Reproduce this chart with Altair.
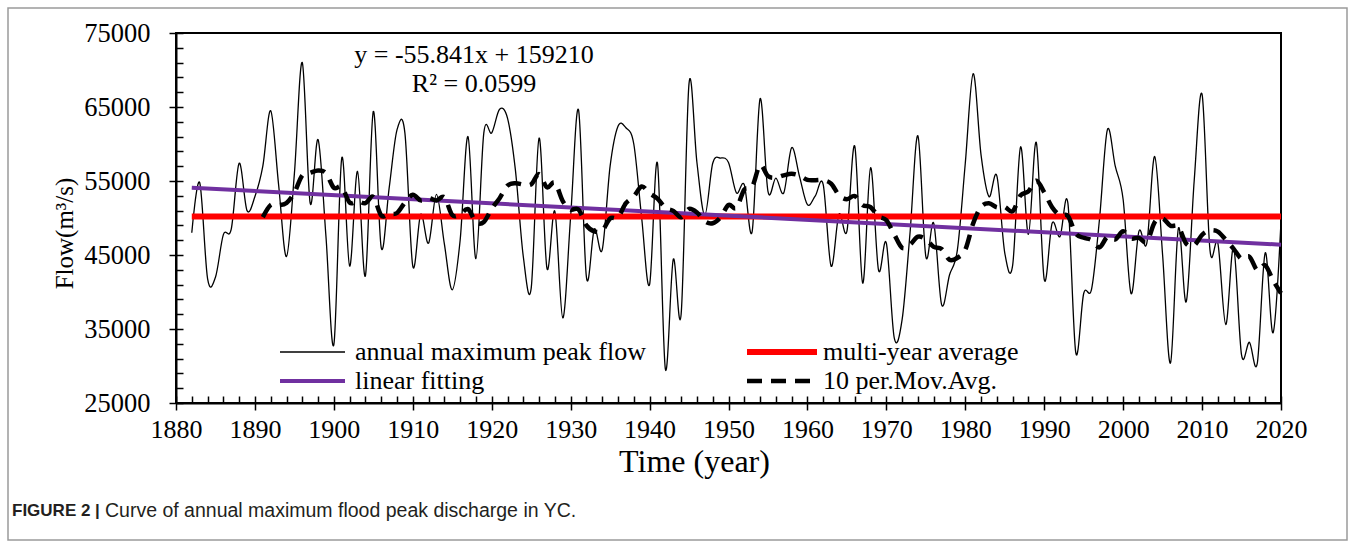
import altair as alt
import pandas as pd

# ---------------- data ----------------
years = list(range(1882, 2021))
peak_flow = [
    48000, 54800, 41800, 42000, 47750, 48500, 57400, 51000, 52900, 57000,  # 1882-1891
    64500, 54500, 44800, 56000, 71000, 52000, 60600, 47500, 32900, 58100,  # 1892-1901
    43500, 56300, 42200, 64400, 46000, 54000, 61900, 61500, 43500, 50500,  # 1902-1911
    46600, 53200, 46500, 40300, 47000, 61000, 44500, 61500, 61500, 64700,  # 1912-1921
    63500, 56500, 44800, 40500, 60800, 43200, 50900, 36500, 50200, 64600,  # 1922-1931
    42000, 48500, 45700, 57000, 62400, 62200, 60000, 50000, 41000, 57400,  # 1932-1941
    29600, 44400, 37000, 68200, 57500, 50400, 57400, 58100, 57500, 53400,  # 1942-1951
    54500, 48200, 66100, 53600, 55400, 53400, 59500, 55600, 51800, 53000,  # 1952-1961
    54500, 43500, 50500, 48200, 59700, 41200, 56800, 43000, 46600, 33800,  # 1962-1971
    36300, 48000, 61100, 44800, 49300, 38300, 42300, 45700, 57400, 69500,  # 1972-1981
    58500, 52900, 55700, 45300, 43600, 59600, 47800, 60200, 41700, 49300,  # 1982-1991
    47500, 52000, 31800, 39800, 40400, 49800, 61900, 57000, 52500, 39800,  # 1992-2001
    48200, 46600, 58300, 45000, 30400, 48600, 38700, 55000, 66700, 45700,  # 2002-2011
    46600, 35600, 46000, 31500, 33200, 30400, 45300, 34500, 49500,         # 2012-2020
]
avg_years = [1882, 2020]
avg_flow = [50200, 50200]
fit_years = [1882, 2020]
fit_flow = [54100, 46400]

x_major = list(range(1880, 2021, 10))
x_minor = list(range(1880, 2021, 2))
y_major = list(range(25000, 75001, 10000))
y_minor = list(range(25000, 75001, 2000))

equation_text = "y = -55.841x + 159210"
r2_text = "R² = 0.0599"
legend_labels = ["annual maximum peak flow", "multi-year average",
                 "linear fitting", "10 per.Mov.Avg."]
caption_bold = "FIGURE 2 |"
caption_text = "Curve of annual maximum flood peak discharge in YC."

# ---------------- styling ----------------
W, H = 1105, 370
SERIF = "Liberation Serif"
SANS = "Liberation Sans"
RED = "#FF0000"
PURPLE = "#7030A0"

flow_df = pd.DataFrame({"year": years, "flow": peak_flow})
avg_df = pd.DataFrame({"year": avg_years, "flow": avg_flow})
fit_df = pd.DataFrame({"year": fit_years, "flow": fit_flow})
one_row = pd.DataFrame({"k": [0]})

xscale = alt.Scale(domain=[1880, 2020], nice=False, zero=False)
yscale = alt.Scale(domain=[25000, 75000], nice=False, zero=False)

x_axis_main = alt.Axis(
    values=x_major, format="d", orient="bottom", title="Time (year)",
    titleFont=SERIF, titleFontSize=32, titleFontWeight="normal", titleColor="black",
    titlePadding=4, titleX=518, labelFont=SERIF, labelFontSize=26, labelColor="black",
    labelPadding=6, labelOverlap=False, labelFlush=False, tickSize=7, tickColor="black",
    tickWidth=1.5, domainColor="black", domainWidth=2, grid=False)
y_axis_main = alt.Axis(
    values=y_major, format="d", orient="left", title="Flow(m³/s)",
    titleFont=SERIF, titleFontSize=25, titleFontWeight="normal", titleColor="black",
    titlePadding=6, titleY=200, labelFont=SERIF, labelFontSize=26.5, labelColor="black",
    labelPadding=19, labelOverlap=False, tickSize=7, tickColor="black",
    tickWidth=1.5, domainColor="black", domainWidth=2, grid=False)
x_axis_minor = alt.Axis(
    values=x_minor, orient="bottom", offset=-7, labels=False, domain=False,
    tickSize=7, tickColor="black", tickWidth=1.5, grid=False, title=None)
y_axis_minor = alt.Axis(
    values=y_minor, orient="left", offset=-7, labels=False, domain=False,
    tickSize=7, tickColor="black", tickWidth=1.5, grid=False, title=None)

flow_line = alt.Chart(flow_df).mark_line(
    color="black", strokeWidth=1.3, interpolate="cardinal"
).encode(
    x=alt.X("year:Q", scale=xscale, axis=x_axis_main),
    y=alt.Y("flow:Q", scale=yscale, axis=y_axis_main),
)

avg_line = alt.Chart(avg_df).mark_line(color=RED, strokeWidth=6).encode(
    x=alt.X("year:Q", scale=xscale, axis=x_axis_minor),
    y=alt.Y("flow:Q", scale=yscale, axis=y_axis_minor),
)

fit_line = alt.Chart(fit_df).mark_line(color=PURPLE, strokeWidth=4).encode(
    x=alt.X("year:Q", scale=xscale, axis=None),
    y=alt.Y("flow:Q", scale=yscale, axis=None),
)

ma_line = alt.Chart(flow_df).transform_window(
    ma="mean(flow)", frame=[-9, 0], sort=[alt.SortField("year")]
).transform_filter(
    alt.datum.year >= 1891
).mark_line(
    color="black", strokeWidth=4.5, strokeDash=[15, 9], interpolate="cardinal"
).encode(
    x=alt.X("year:Q", scale=xscale, axis=None),
    y=alt.Y("ma:Q", scale=yscale, axis=None),
)

# ---------------- legend (inside plot, bottom) ----------------
def leg_rule(x0, x1, y, color, width, dash=None):
    kw = dict(color=color, strokeWidth=width)
    if dash is not None:
        kw["strokeDash"] = dash
    return alt.Chart(one_row).mark_rule(**kw).encode(
        x=alt.value(x0), x2=alt.value(x1), y=alt.value(y))

def txt(x, y, text, size=26, font=SERIF, align="left", weight="normal", color="black"):
    return alt.Chart(one_row).mark_text(
        font=font, fontSize=size, align=align, baseline="middle",
        fontWeight=weight, color=color
    ).encode(x=alt.value(x), y=alt.value(y), text=alt.value(text))

legend_layers = [
    leg_rule(104, 169, 319, "black", 1.3), txt(179, 319, legend_labels[0]),
    leg_rule(571, 641, 319, RED, 6), txt(647, 319, legend_labels[1]),
    leg_rule(104, 169, 348, PURPLE, 4), txt(179, 348, legend_labels[2]),
    leg_rule(571, 641, 348, "black", 4.5, [15, 9]), txt(647, 348, legend_labels[3]),
]

eq_layers = [
    txt(298, 22, equation_text, align="center"),
    txt(298, 51, r2_text, align="center"),
]

caption_layers = [
    txt(-164, 478, caption_bold, size=17, font=SANS, weight="bold", color="#231f20"),
    txt(-71, 478, caption_text, size=19.5, font=SANS, color="#231f20"),
]

frame = alt.Chart(one_row).mark_rect(
    fillOpacity=0, stroke="#9a9a9a", strokeWidth=1.5
).encode(x=alt.value(-168), x2=alt.value(1171), y=alt.value(-25), y2=alt.value(507))

chart = alt.layer(
    frame, flow_line, avg_line, fit_line, ma_line,
    *legend_layers, *eq_layers, *caption_layers
).resolve_axis(
    x="independent", y="independent"
).properties(
    width=W, height=H,
    autosize=alt.AutoSizeParams(type="none"),
    padding={"left": 176, "top": 33, "right": 74, "bottom": 145},
    background="white",
).configure_view(
    stroke="black", strokeWidth=2
)

chart.save("out.html", embed_options={"renderer": "svg", "actions": False})
